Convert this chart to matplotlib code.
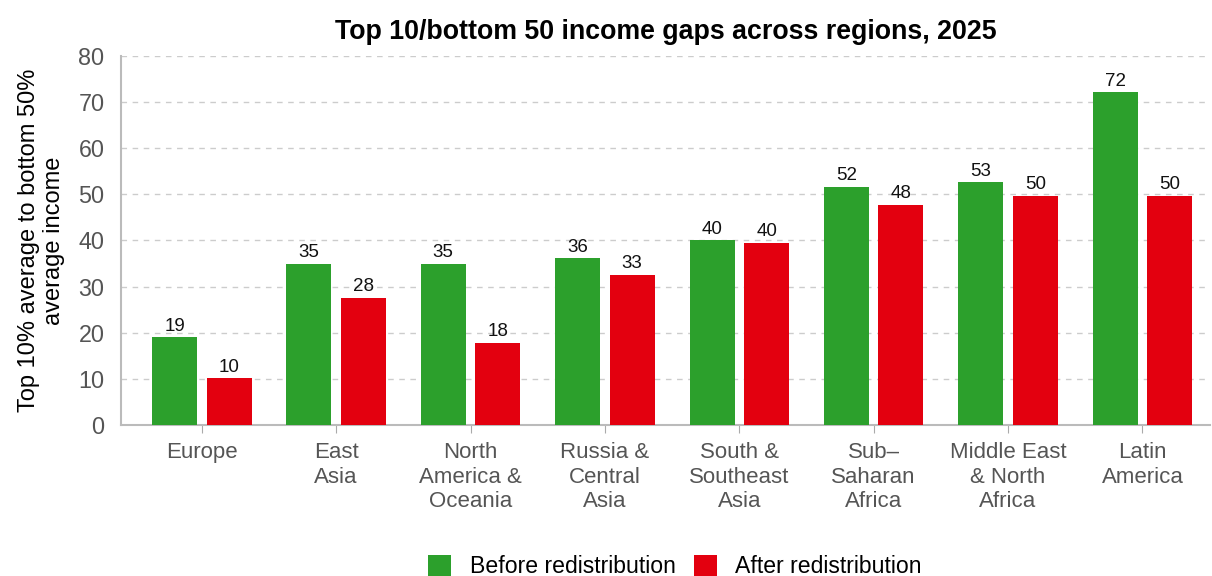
import matplotlib.pyplot as plt
import numpy as np

plt.rcParams['font.family'] = ['Liberation Sans', 'DejaVu Sans']

regions = ['Europe', 'East\nAsia', 'North\nAmerica &\nOceania', 'Russia &\nCentral\nAsia',
           'South &\nSoutheast\nAsia', 'Sub\u2013\nSaharan\nAfrica', 'Middle East\n& North\nAfrica',
           'Latin\nAmerica']
before = [19.0, 35.0, 35.0, 36.1, 40.0, 51.6, 52.6, 72.1]
after = [10.1, 27.6, 17.8, 32.6, 39.5, 47.7, 49.7, 49.7]

green = '#2ca02c'
red = '#e3000f'

fig = plt.figure(figsize=(12.12, 5.76), dpi=100)
ax = fig.add_axes([0.1, 0.262, 0.898, 0.641])

x = np.arange(len(regions))
w = 0.335
b1 = ax.bar(x - 0.203, before, w, color=green, label='Before redistribution', zorder=3)
b2 = ax.bar(x + 0.203, after, w, color=red, label='After redistribution', zorder=3)

for bars in (b1, b2):
    for r in bars:
        h = r.get_height()
        ax.text(r.get_x() + r.get_width() / 2, h + 0.6, f'{h:.0f}', ha='center', va='bottom',
                fontsize=13.5, color='#111111')

ax.set_xlim(-0.6, 7.5)
ax.set_ylim(0, 80)
ax.set_yticks(range(0, 81, 10))
ax.set_xticks(x)
ax.set_xticklabels(regions, fontsize=16, color='#555555', linespacing=1.24)
ax.tick_params(axis='y', labelsize=16.8, colors='#555555', length=0, pad=12)
ax.tick_params(axis='x', length=6, color='#aaaaaa', pad=6)
ax.grid(axis='y', linestyle=(0, (4, 4)), color='#cccccc', linewidth=1, zorder=0)
for s in ['top', 'right']:
    ax.spines[s].set_visible(False)
for s in ['left', 'bottom']:
    ax.spines[s].set_color('#bbbbbb')
    ax.spines[s].set_linewidth(1.5)

ax.set_ylabel('Top 10% average to bottom 50%\naverage income', fontsize=17, linespacing=1.15,
              labelpad=10)
ax.set_title('Top 10/bottom 50 income gaps across regions, 2025', fontsize=19.3,
             fontweight='bold', pad=12)

fig.legend(handles=[b1, b2], loc='lower center', bbox_to_anchor=(0.557, -0.04), ncol=2,
           frameon=False, fontsize=16.6, handlelength=1.0, handleheight=1.0,
           columnspacing=0.8, handletextpad=0.8)

fig.savefig('out.png', dpi=100)
